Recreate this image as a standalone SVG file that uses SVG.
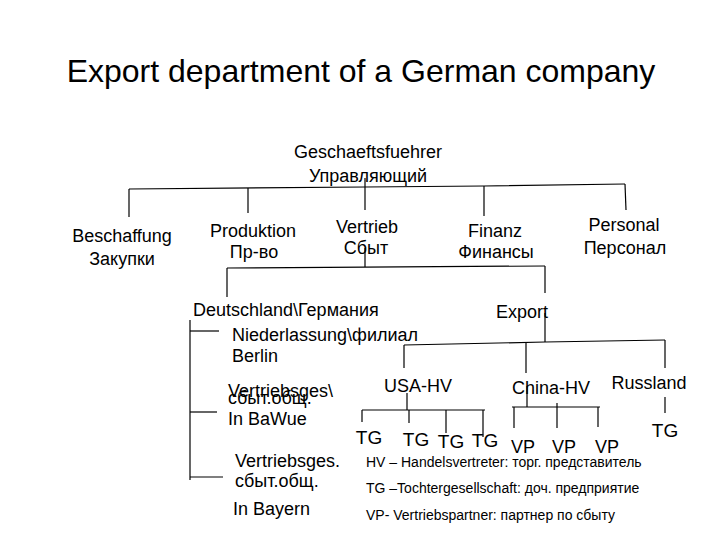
<svg xmlns="http://www.w3.org/2000/svg" width="720" height="540" viewBox="0 0 720 540">
<style>
text{font-family:"Liberation Sans",Arial,sans-serif;fill:#000}
.t{font-size:32px}
.n{font-size:18px}
.c{text-anchor:middle}
.lg{font-size:14px}
.tg{font-size:19px}
#connectors polyline,#connectors line{stroke:#000;stroke-width:1.2;fill:none}
</style>
<rect width="720" height="540" fill="#fff"/>
<text class="t c" x="361" y="82">Export department of a German company</text>
<g id="connectors">
<polyline points="129,189 365,187 484,186 625,184"/>
<line x1="129" y1="189" x2="129" y2="217"/>
<line x1="248" y1="188" x2="248" y2="213"/>
<line x1="365" y1="178" x2="365" y2="210"/>
<line x1="484" y1="186" x2="484" y2="216"/>
<line x1="625" y1="184" x2="626" y2="210"/>
<line x1="365" y1="248" x2="365" y2="267"/>
<polyline points="227,268 545,266"/>
<line x1="227" y1="268" x2="227" y2="297"/>
<line x1="545" y1="266" x2="545" y2="293"/>
<line x1="545" y1="313" x2="545" y2="342"/>
<polyline points="404,345 545,342 665,340"/>
<line x1="404" y1="345" x2="404" y2="368"/>
<line x1="526" y1="343" x2="526" y2="373"/>
<line x1="527" y1="386" x2="527" y2="407"/>
<line x1="665" y1="340" x2="665" y2="368"/>
<line x1="407" y1="393" x2="407" y2="410"/>
<polyline points="362,410 485,410"/>
<line x1="362" y1="410" x2="362" y2="422"/>
<line x1="409" y1="410" x2="409" y2="423"/>
<line x1="446" y1="410" x2="446" y2="433"/>
<line x1="483" y1="410" x2="483" y2="437"/>
<polyline points="512,407 600,407"/>
<line x1="514" y1="407" x2="514" y2="428"/>
<line x1="557" y1="403" x2="557" y2="428"/>
<line x1="598" y1="407" x2="598" y2="427"/>
<line x1="665" y1="397" x2="665" y2="413"/>
<line x1="190" y1="320" x2="190" y2="480"/>
<line x1="190" y1="331" x2="219" y2="331"/>
<line x1="190" y1="412" x2="217" y2="412"/>
<line x1="190" y1="477" x2="223" y2="477"/>
</g>
<g id="geschaeftsfuehrer"><text class="n c" x="368" y="158">Geschaeftsfuehrer</text><text class="n c" x="368" y="182">Управляющий</text></g>
<g id="beschaffung"><text class="n c" x="122" y="242">Beschaffung</text><text class="n c" x="122" y="265">Закупки</text></g>
<g id="produktion"><text class="n c" x="253" y="237">Produktion</text><text class="n c" x="254" y="258">Пр-во</text></g>
<g id="vertrieb"><text class="n c" x="367" y="233">Vertrieb</text><text class="n c" x="366" y="254">Сбыт</text></g>
<g id="finanz"><text class="n c" x="495" y="237">Finanz</text><text class="n c" x="496" y="258">Финансы</text></g>
<g id="personal"><text class="n c" x="624" y="231">Personal</text><text class="n c" x="625" y="254">Персонал</text></g>
<g id="deutschland"><text class="n" x="193" y="316">Deutschland\Германия</text></g>
<g id="berlin"><text class="n" x="232" y="341">Niederlassung\филиал</text><text class="n" x="232" y="362">Berlin</text></g>
<g id="bawue"><text class="n" x="228" y="397">Vertriebsges\</text><text class="n" x="228" y="404">сбыт.общ.</text><text class="n" x="228" y="425">In BaWue</text></g>
<g id="bayern"><text class="n" x="235" y="467">Vertriebsges.</text><text class="n" x="235" y="487">сбыт.общ.</text><text class="n" x="233" y="515">In Bayern</text></g>
<g id="export"><text class="n c" x="522" y="318">Export</text></g>
<g id="usa"><text class="n c" x="418" y="392">USA-HV</text></g>
<g id="china"><text class="n c" x="551" y="394">China-HV</text></g>
<g id="russland"><text class="n c" x="649" y="389">Russland</text></g>
<g id="tg1"><text class="tg c" x="369" y="444">TG</text></g>
<g id="tg2"><text class="tg c" x="416" y="446">TG</text></g>
<g id="tg3"><text class="tg c" x="451" y="448">TG</text></g>
<g id="tg4"><text class="tg c" x="485" y="447">TG</text></g>
<g id="vp1"><text class="n c" x="523" y="453">VP</text></g>
<g id="vp2"><text class="n c" x="564" y="453">VP</text></g>
<g id="vp3"><text class="n c" x="607" y="453">VP</text></g>
<g id="tg5"><text class="tg c" x="665" y="437">TG</text></g>
<g id="legend">
<text class="lg" x="366" y="467">HV – Handelsvertreter: торг. представитель</text>
<text class="lg" x="366" y="493">TG –Tochtergesellschaft: доч. предприятие</text>
<text class="lg" x="366" y="520">VP- Vertriebspartner: партнер по сбыту</text>
</g>
</svg>
